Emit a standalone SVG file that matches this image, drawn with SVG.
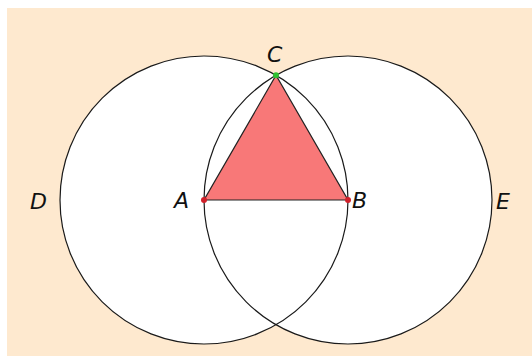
<svg xmlns="http://www.w3.org/2000/svg" width="532" height="356" viewBox="0 0 532 356">
<style>
.fill{fill:#ffffff;stroke:none}
.ring{fill:none;stroke:#1a1a1a;stroke-width:1.2}
.lbl{font-family:"DejaVu Sans",Verdana,sans-serif;font-style:italic;font-size:22px;fill:#111}
</style>
<rect x="0" y="0" width="532" height="356" fill="#ffffff"/>
<rect x="7" y="8" width="525" height="348" fill="#fee9cf"/>
<circle class="fill" cx="204" cy="200" r="144"/>
<circle class="fill" cx="348" cy="200" r="144"/>
<g id="circleA"><circle class="ring" cx="204" cy="200" r="144"/></g>
<g id="circleB"><circle class="ring" cx="348" cy="200" r="144"/></g>
<g id="connectors">
<polygon id="triangle" points="204,200 348,200 276,75.3" fill="#f87878" stroke="#222" stroke-width="1.2"/>
</g>
<g id="A"><circle cx="204" cy="200" r="3" fill="#d0202a"/><text class="lbl" x="174" y="208">A</text></g>
<g id="B"><circle cx="348" cy="200" r="3" fill="#d0202a"/><text class="lbl" x="352" y="208">B</text></g>
<g id="C"><circle cx="276" cy="75.3" r="3" fill="#2fc02f"/><text class="lbl" x="267" y="62">C</text></g>
<g id="D"><text class="lbl" x="30" y="209">D</text></g>
<g id="E"><text class="lbl" x="496" y="209">E</text></g>
</svg>
